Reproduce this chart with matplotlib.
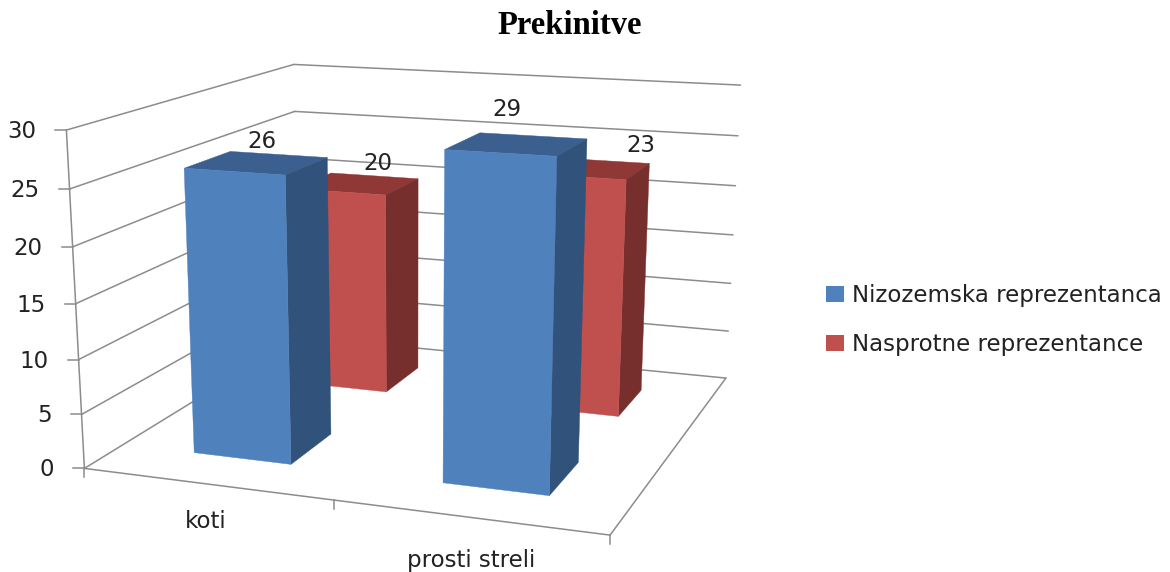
import numpy as np
import matplotlib
matplotlib.use('Agg')
import matplotlib.pyplot as plt
from matplotlib.patches import Polygon, Patch

# data
categories = ['koti', 'prosti streli']
series_names = ['Nizozemska reprezentanca', 'Nasprotne reprezentance']
nizozemska = [26, 29]
nasprotne = [20, 23]
z_ticks = [0, 5, 10, 15, 20, 25, 30]

# colours: front, side, top
blue_faces = ['#4F81BD', '#31527A', '#3B608F']
red_faces = ['#C0504D', '#772F2D', '#8F3836']
grid_col = '#8C8C8C'
text_col = '#222222'

# 3d box: x = category (0..2), y = depth (0..1), z = value (0..30)
# calibration of the camera, world point -> picture pixel
world = np.array([[0, 0, 0], [1, 0, 0], [2, 0, 0], [2, 1, 0], [0, 1, 0],
                  [0, 0, 30], [0, 1, 30], [2, 1, 30], [2, 1, 15],
                  [0.3, 0.1525, 26], [0.3, 0.1525, 0], [0.7, 0.1525, 26], [0.7, 0.1525, 0]], dtype=float)
pixel = np.array([[84, 468], [334, 500], [611, 535], [725, 378], [302, 337],
                  [68, 130], [291, 64], [741, 85], [733, 235],
                  [184, 168], [192, 453], [287, 176], [290, 464]], dtype=float)

rows = []
for (X, Y, Z), (u, v) in zip(world, pixel):
    rows.append([X, Y, Z, 1, 0, 0, 0, 0, -u*X, -u*Y, -u*Z, -u])
    rows.append([0, 0, 0, 0, X, Y, Z, 1, -v*X, -v*Y, -v*Z, -v])
P = np.linalg.svd(np.array(rows))[2][-1].reshape(3, 4)


def project(x, y, z):
    h = P @ np.array([x, y, z, 1.0])
    return h[0] / h[2], h[1] / h[2]


def draw_bar(ax, x0, x1, y0, y1, value, faces):
    front = [(x0, y0, 0), (x1, y0, 0), (x1, y0, value), (x0, y0, value)]
    side = [(x1, y0, 0), (x1, y1, 0), (x1, y1, value), (x1, y0, value)]
    top = [(x0, y0, value), (x1, y0, value), (x1, y1, value), (x0, y1, value)]
    for corners, col in zip([top, side, front], [faces[2], faces[1], faces[0]]):
        pts = [project(*c) for c in corners]
        ax.add_patch(Polygon(pts, closed=True, facecolor=col, edgecolor=col, lw=0.3, zorder=3))


def line3d(ax, a, b, lw=1.1):
    p, q = project(*a), project(*b)
    ax.plot([p[0], q[0]], [p[1], q[1]], color=grid_col, lw=lw, zorder=1, solid_capstyle='round')


fig = plt.figure(figsize=(11.7, 5.72), dpi=100)
ax = fig.add_axes([0, 0, 1, 1])
ax.set_xlim(0, 1170)
ax.set_ylim(572, 0)
ax.axis('off')

# walls and floor
for z in z_ticks:
    line3d(ax, (0, 0, z), (0, 1, z))
    line3d(ax, (0, 1, z), (2, 1, z))
    tx, ty = project(0, 0, z)
    ax.plot([tx - 11, tx], [ty, ty], color=grid_col, lw=1.1, zorder=1)
    ax.text(tx - 30, ty + 1.5, str(z), ha='right', va='center', fontsize=16.5, color=text_col)
line3d(ax, (0, 0, 0), (0, 0, 30))
line3d(ax, (0, 0, 0), (2, 0, 0))
line3d(ax, (2, 0, 0), (2, 1, 0))

# ticks under the front edge
for i in range(3):
    tx, ty = project(i, 0, 0)
    ax.plot([tx, tx], [ty, ty + 9], color=grid_col, lw=1.1, zorder=1)

# bars, back row first
bar_w = 0.4
bar_d = 0.195
for i in range(len(categories)):
    draw_bar(ax, i + 0.5 - bar_w/2, i + 0.5 + bar_w/2, 0.75 - bar_d/2, 0.75 + bar_d/2, nasprotne[i], red_faces)
for i in range(len(categories)):
    draw_bar(ax, i + 0.5 - bar_w/2, i + 0.5 + bar_w/2, 0.25 - bar_d/2, 0.25 + bar_d/2, nizozemska[i], blue_faces)

# labels
label_pos_blue = [(262, 141), (507, 110)]
label_pos_red = [(378, 164), (641, 146)]
for i in range(len(categories)):
    ax.text(*label_pos_blue[i], str(nizozemska[i]), ha='center', va='center', fontsize=16.5, color=text_col, zorder=5)
    ax.text(*label_pos_red[i], str(nasprotne[i]), ha='center', va='center', fontsize=16.5, color=text_col, zorder=5)

cat_pos = [(206, 522), (471, 561)]
for name, pos in zip(categories, cat_pos):
    ax.text(*pos, name, ha='center', va='center', fontsize=16.5, color=text_col)

ax.text(570, 26, 'Prekinitve', ha='center', va='center', fontsize=23.5, fontweight='bold',
        family='Liberation Serif', color='black')

handles = [Patch(facecolor=blue_faces[0], label=series_names[0]),
           Patch(facecolor=red_faces[0], label=series_names[1])]
ax.legend(handles=handles, loc='upper left', bbox_to_anchor=(826 / 1170, 1 - 284 / 572),
          frameon=False, fontsize=16.5, labelcolor=text_col, handlelength=0.77, handleheight=0.68,
          handletextpad=0.35, labelspacing=1.14, borderpad=0, borderaxespad=0)

fig.savefig('out.png', dpi=100)
